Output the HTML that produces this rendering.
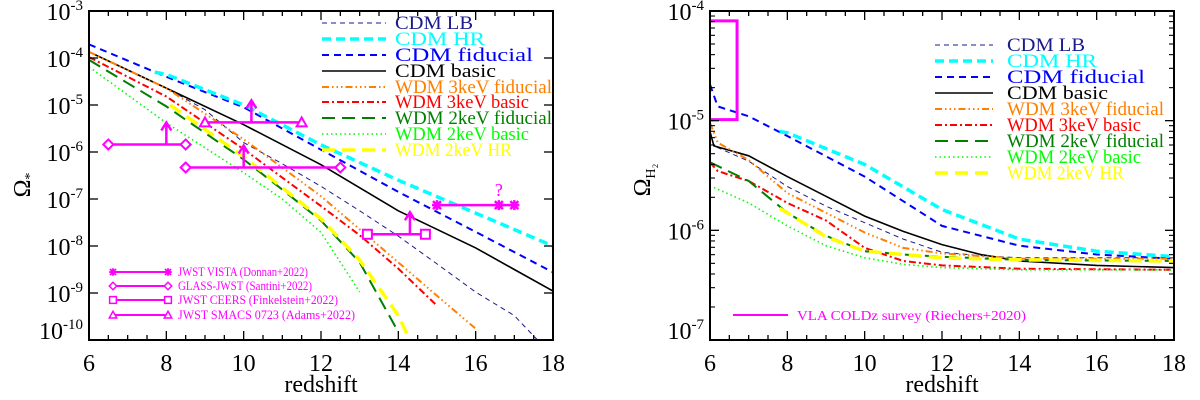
<!DOCTYPE html>
<html><head><meta charset="utf-8"><style>
html,body{margin:0;padding:0;background:#fff;}
svg{display:block;font-family:"Liberation Serif","Times New Roman",Times,serif;}
svg text,svg tspan{font-family:"Liberation Serif","Times New Roman",Times,serif;}
</style></head><body>
<svg id="fig" width="1200" height="400" viewBox="0 0 1200 400" xmlns="http://www.w3.org/2000/svg">
<g id="left"></g>
<g id="right"></g>
</svg>
<script>
// ---------- data: left panel (log10 Omega_*) ----------
const leftCdmLbZ = [6,7,8,9,10,11,12,13,14,15,16,17,17.6];
const leftCdmLbV = [-3.87,-4.25,-4.64,-5.1,-5.8,-6.25,-6.73,-7.25,-7.79,-8.38,-8.98,-9.48,-10];
const leftCdmHrZ = [7.7,8,10,12,14,16,18];
const leftCdmHrV = [-4.3,-4.35,-5.0,-5.85,-6.6,-7.3,-8.0];
const leftCdmFidZ = [6,8,10,12,14,16,18];
const leftCdmFidV = [-3.71,-4.4,-5.05,-5.95,-6.85,-7.7,-8.56];
const leftCdmBasicZ = [6,8,10,12,14,16,17,18];
const leftCdmBasicV = [-3.87,-4.64,-5.42,-6.27,-7.25,-8.04,-8.5,-8.96];
const leftW3FidZ = [6,8,10,12,14,15,16];
const leftW3FidV = [-3.87,-4.64,-5.73,-6.94,-8.35,-9.06,-9.76];
const leftW3BasZ = [6,8,10,12,13,14,15];
const leftW3BasV = [-3.98,-4.82,-5.94,-7.15,-7.77,-8.48,-9.27];
const leftW2FidZ = [6,8,10,11,12,13,14];
const leftW2FidV = [-4.04,-5.03,-6.16,-6.8,-7.46,-8.35,-9.83];
const leftW2BasZ = [6,8,10,11,12,13];
const leftW2BasV = [-4.19,-5.38,-6.44,-7.0,-7.71,-8.98];
const leftW2HrZ = [8.1,10,12,13,14,14.3];
const leftW2HrV = [-5.0,-6.1,-7.42,-8.3,-9.48,-10];
// observations: [zmin, zmax, log value, arrow z]
const obsDonnan = [15,17,-7.13];
const obsDonnanMarks = [15,16.6,17];
const obsSantini1 = [6.5,8.5,-5.84,8.0];
const obsSantini2 = [8.5,12.5,-6.33,10.0];
const obsFinkel = [13.2,14.7,-7.75,14.3];
const obsAdams = [9,11.5,-5.37,10.2];
const leftTickExp = [-3,-4,-5,-6,-7,-8,-9,-10];
const xTicks = [6,8,10,12,14,16,18];

// ---------- data: right panel (log10 Omega_H2) ----------
const rCdmLbZ = [6,6.1,7,8,9,10,11,12,13,14,18];
const rCdmLbV = [-5.1,-5.23,-5.37,-5.6,-5.78,-5.93,-6.08,-6.2,-6.23,-6.25,-6.25];
const rCdmHrZ = [7.8,8,10,12,14,16,18];
const rCdmHrV = [-5.1,-5.11,-5.40,-5.81,-6.08,-6.19,-6.24];
const rCdmFidZ = [6,6.2,7,8,10,12,14,16,18];
const rCdmFidV = [-4.67,-4.87,-4.96,-5.14,-5.51,-5.96,-6.14,-6.22,-6.26];
const rCdmBasZ = [6,6.1,7,8,9,10,11,12,13,14,16,18];
const rCdmBasV = [-5.1,-5.23,-5.32,-5.51,-5.69,-5.87,-6.01,-6.13,-6.22,-6.28,-6.32,-6.34];
const rW3FidZ = [6,6.2,7,8,9,10,11,12,14,18];
const rW3FidV = [-5.02,-5.2,-5.36,-5.66,-5.84,-6.02,-6.16,-6.21,-6.26,-6.26];
const rW3BasZ = [6,6.2,7,8,9,10,11,12,14,18];
const rW3BasV = [-5.38,-5.46,-5.55,-5.75,-5.91,-6.16,-6.28,-6.32,-6.35,-6.36];
const rW2FidZ = [6,7,8,9,10,11,12,14,18];
const rW2FidV = [-5.38,-5.55,-5.84,-6.05,-6.19,-6.22,-6.24,-6.27,-6.28];
const rW2BasZ = [6.1,7,8,9,10,11,12,14,18];
const rW2BasV = [-5.61,-5.75,-5.96,-6.14,-6.25,-6.31,-6.34,-6.36,-6.36];
const rW2HrZ = [7.8,8,9,10,12,14,18];
const rW2HrV = [-5.8,-5.84,-6.06,-6.19,-6.25,-6.27,-6.28];
const vlaBox = [6,6.7,-4.09,-4.99];
const rightTickExp = [-4,-5,-6,-7];

const legendNames = ["CDM LB","CDM HR","CDM fiducial","CDM basic","WDM 3keV fiducial","WDM 3keV basic","WDM 2keV fiducial","WDM 2keV basic","WDM 2keV HR"];
const obsLegend = ["JWST VISTA (Donnan+2022)","GLASS-JWST (Santini+2022)","JWST CEERS (Finkelstein+2022)","JWST SMACS 0723 (Adams+2022)"];

const styles = [
 {c:"#1a1a8c",w:1,d:"5,4"},
 {c:"#00ffff",w:3.5,d:"9,5"},
 {c:"#0000ff",w:2,d:"7,5"},
 {c:"#000000",w:1.6,d:""},
 {c:"#ff7f00",w:2,d:"7,3,1.5,3,1.5,3,1.5,3"},
 {c:"#ff0000",w:2,d:"7,3,2,3"},
 {c:"#007f00",w:2,d:"13,7"},
 {c:"#00ff00",w:1.6,d:"1.5,3"},
 {c:"#ffff00",w:3.5,d:"13,7"}
];
const NS="http://www.w3.org/2000/svg";
function mk(tag,attrs,parent){const e=document.createElementNS(NS,tag);for(const k in attrs)e.setAttribute(k,attrs[k]);parent.appendChild(e);return e;}

function panel(g,x0,x1,y0,y1,lmin,lmax){
  const sx=z=>x0+(z-6)/(18-6)*(x1-x0);
  const sy=v=>y1-(v-lmin)/(lmax-lmin)*(y1-y0);
  return {sx,sy};
}
function drawLine(g,Z,V,st,ax,name){
  const p=mk("path",{d:Z.map((z,i)=>(i?"L":"M")+ax.sx(z).toFixed(1)+","+ax.sy(V[i]).toFixed(1)).join(""),fill:"none",stroke:st.c,"stroke-width":st.w,"stroke-dasharray":st.d},g);
  
  
}
function frame(g,x0,x1,y0,y1,ax,exps,minor){
  const r=mk("rect",{x:x0,y:y0,width:x1-x0,height:y1-y0,fill:"none",stroke:"#000","stroke-width":2},g);
  
  
  for(let z=6;z<=18.001;z+=0.5){
    const L=(Math.abs(z-Math.round(z/2)*2)<1e-6)?9:5;
    const x=ax.sx(z);
    mk("line",{x1:x,x2:x,y1:y1,y2:y1-L,stroke:"#000","stroke-width":1.3},g);
    mk("line",{x1:x,x2:x,y1:y0,y2:y0+L,stroke:"#000","stroke-width":1.3},g);
  }
  xTicks.forEach(z=>{
    const t=mk("text",{x:ax.sx(z),y:y1+31,"font-size":24,"text-anchor":"middle"},g);t.textContent=z;
    
    
  });
  exps.forEach(e=>{
    const y=ax.sy(e);
    mk("line",{x1:x0,x2:x0+9,y1:y,y2:y,stroke:"#000","stroke-width":1.3},g);
    mk("line",{x1:x1,x2:x1-9,y1:y,y2:y,stroke:"#000","stroke-width":1.3},g);
    if(minor && e>exps[exps.length-1]){
      for(let m=2;m<=9;m++){const ym=ax.sy(e-1+Math.log10(m));
        mk("line",{x1:x0,x2:x0+5,y1:ym,y2:ym,stroke:"#000","stroke-width":1.1},g);
        mk("line",{x1:x1,x2:x1-5,y1:ym,y2:ym,stroke:"#000","stroke-width":1.1},g);}
    }
    let ty=y+9; if(e===exps[exps.length-1]) ty=y-1;
    const t=mk("text",{x:x0-6,y:ty,"font-size":24,"text-anchor":"end"},g);
    
    
    const a=mk("tspan",{},t);a.textContent="10";
    const b=mk("tspan",{dy:-10,"font-size":15},t);b.textContent=String(e);
  });
  const xl=mk("text",{x:(x0+x1)/2,y:392,"font-size":24,"text-anchor":"middle"},g);xl.textContent="redshift";
  
  
}
function legend(g,lx0,lx1,tx,ys,lens){
  legendNames.forEach((n,i)=>{
    const st=styles[i],y=ys[i];
    const l=mk("line",{x1:lx0,x2:lx1,y1:y,y2:y,stroke:st.c,"stroke-width":st.w,"stroke-dasharray":st.d},g);
    
    
    const t=mk("text",{x:tx,y:y+6,"font-size":19,fill:st.c,textLength:lens[i],lengthAdjust:"spacingAndGlyphs"},g);
    t.textContent=n;
    
    
  });
}
const legLens=[78,90,138,101,157,134,157,134,117];

// ---------- left panel ----------
(function(){
  const g=document.getElementById("left");
  const x0=89,x1=553,y0=11,y1=340;
  const ax=panel(g,x0,x1,y0,y1,-10,-3);
  const cp=mk("clipPath",{id:"cl"},g);mk("rect",{x:x0,y:y0,width:x1-x0,height:y1-y0},cp);
  const cg=mk("g",{"clip-path":"url(#cl)"},g);
  drawLine(cg,leftCdmFidZ,leftCdmFidV,styles[2],ax,"cdm-fiducial-line");
  drawLine(cg,leftCdmHrZ,leftCdmHrV,styles[1],ax,"cdm-hr-line");
  drawLine(cg,leftCdmLbZ,leftCdmLbV,styles[0],ax,"cdm-lb-line");
  drawLine(cg,leftCdmBasicZ,leftCdmBasicV,styles[3],ax,"cdm-basic-line");
  drawLine(cg,leftW3FidZ,leftW3FidV,styles[4],ax,"wdm-3kev-fiducial-line");
  drawLine(cg,leftW3BasZ,leftW3BasV,styles[5],ax,"wdm-3kev-basic-line");
  drawLine(cg,leftW2FidZ,leftW2FidV,styles[6],ax,"wdm-2kev-fiducial-line");
  drawLine(cg,leftW2BasZ,leftW2BasV,styles[7],ax,"wdm-2kev-basic-line");
  drawLine(cg,leftW2HrZ,leftW2HrV,styles[8],ax,"wdm-2kev-hr-line");
  frame(g,x0,x1,y0,y1,ax,leftTickExp,false);
  const M="#ff00ff";
  function marker(type,x,y,par,s){
    s=s||1;
    if(type==="x"){mk("path",{d:`M${x-4*s},${y-4*s}L${x+4*s},${y+4*s}M${x-4*s},${y+4*s}L${x+4*s},${y-4*s}M${x},${y-5*s}L${x},${y+5*s}M${x-5*s},${y}L${x+5*s},${y}`,stroke:M,"stroke-width":2.5*s},par);}
    else if(type==="d"){mk("path",{d:`M${x-5*s},${y}L${x},${y-5*s}L${x+5*s},${y}L${x},${y+5*s}Z`,fill:"#fff",stroke:M,"stroke-width":2*s},par);}
    else if(type==="s"){mk("rect",{x:x-4.5*s,y:y-4.5*s,width:9*s,height:9*s,fill:"#fff",stroke:M,"stroke-width":2*s},par);}
    else {mk("path",{d:`M${x-5*s},${y+4*s}L${x+5*s},${y+4*s}L${x},${y-5*s}Z`,fill:"#fff",stroke:M,"stroke-width":2*s},par);}
  }
  function obs(o,type,marks,name){
    const og=mk("g",{},g);
    
    
    const y=ax.sy(o[2]);
    mk("line",{x1:ax.sx(o[0]),x2:ax.sx(o[1]),y1:y,y2:y,stroke:M,"stroke-width":2.5},og);
    if(o.length>3){const xa=ax.sx(o[3]);
      mk("line",{x1:xa,x2:xa,y1:y,y2:y-20,stroke:M,"stroke-width":2.5},og);
      mk("path",{d:`M${xa-5},${y-14}L${xa},${y-22}L${xa+5},${y-14}`,fill:"none",stroke:M,"stroke-width":2.5},og);}
    (marks||[o[0],o[1]]).forEach(z=>marker(type,ax.sx(z),y,og));
  }
  obs(obsDonnan,"x",obsDonnanMarks,"donnan-2022-point");
  const q=mk("text",{x:ax.sx(obsDonnanMarks[1]),y:ax.sy(obsDonnan[2])-9,"font-size":18,fill:M,"text-anchor":"middle"},g);q.textContent="?";
  
  
  obs(obsSantini1,"d",null,"santini-2022-point-1");
  obs(obsSantini2,"d",null,"santini-2022-point-2");
  obs(obsFinkel,"s",null,"finkelstein-2022-point");
  obs(obsAdams,"t",null,"adams-2022-point");
  legend(g,322,386,395,[23,39,55,71,87,102,118,134,150],legLens);
  const types=["x","d","s","t"],ly=[272,286,300,315],obsLens=[130,134,160,177];
  obsLegend.forEach((n,i)=>{
    mk("line",{x1:113,x2:168,y1:ly[i],y2:ly[i],stroke:M,"stroke-width":2},g);
    marker(types[i],113,ly[i],g,0.75);marker(types[i],168,ly[i],g,0.75);
    const t=mk("text",{x:178,y:ly[i]+4,"font-size":13,fill:M,textLength:obsLens[i],lengthAdjust:"spacingAndGlyphs"},g);t.textContent=n;
    
    
  });
  const yl=mk("text",{x:0,y:0,"font-size":24,transform:"translate(30,185) rotate(-90)","text-anchor":"middle"},g);
  
  
  const a=mk("tspan",{},yl);a.textContent="Ω";const b=mk("tspan",{dy:4,"font-size":14},yl);b.textContent="*";
})();

// ---------- right panel ----------
(function(){
  const g=document.getElementById("right");
  const x0=710,x1=1174,y0=11,y1=340;
  const ax=panel(g,x0,x1,y0,y1,-7,-4);
  const cp=mk("clipPath",{id:"cr"},g);mk("rect",{x:x0,y:y0,width:x1-x0,height:y1-y0},cp);
  const cg=mk("g",{"clip-path":"url(#cr)"},g);
  drawLine(cg,rCdmFidZ,rCdmFidV,styles[2],ax,"cdm-fiducial-line");
  drawLine(cg,rCdmHrZ,rCdmHrV,styles[1],ax,"cdm-hr-line");
  drawLine(cg,rCdmLbZ,rCdmLbV,styles[0],ax,"cdm-lb-line");
  drawLine(cg,rCdmBasZ,rCdmBasV,styles[3],ax,"cdm-basic-line");
  drawLine(cg,rW3FidZ,rW3FidV,styles[4],ax,"wdm-3kev-fiducial-line");
  drawLine(cg,rW3BasZ,rW3BasV,styles[5],ax,"wdm-3kev-basic-line");
  drawLine(cg,rW2BasZ,rW2BasV,styles[7],ax,"wdm-2kev-basic-line");
  drawLine(cg,rW2FidZ,rW2FidV,styles[6],ax,"wdm-2kev-fiducial-line");
  drawLine(cg,rW2HrZ,rW2HrV,styles[8],ax,"wdm-2kev-hr-line");
  const bx=mk("path",{d:`M${ax.sx(vlaBox[0])},${ax.sy(vlaBox[2])}L${ax.sx(vlaBox[1])},${ax.sy(vlaBox[2])}L${ax.sx(vlaBox[1])},${ax.sy(vlaBox[3])}L${ax.sx(vlaBox[0])},${ax.sy(vlaBox[3])}`,fill:"none",stroke:"#ff00ff","stroke-width":3},g);
  
  
  frame(g,x0,x1,y0,y1,ax,rightTickExp,true);
  legend(g,935,993,1007,[45,61,77,93,109,125,141,157,173],legLens);
  mk("line",{x1:733,x2:788,y1:315,y2:315,stroke:"#ff00ff","stroke-width":2},g);
  const t=mk("text",{x:797,y:320,"font-size":14,fill:"#ff00ff",textLength:229,lengthAdjust:"spacingAndGlyphs"},g);t.textContent="VLA COLDz survey (Riechers+2020)";
  
  
  const yl=mk("text",{x:0,y:0,"font-size":24,transform:"translate(650,180) rotate(-90)","text-anchor":"middle"},g);
  
  
  const a=mk("tspan",{},yl);a.textContent="Ω";const b=mk("tspan",{dy:5,"font-size":14},yl);b.textContent="H₂";
})();
</script>
</body></html>
